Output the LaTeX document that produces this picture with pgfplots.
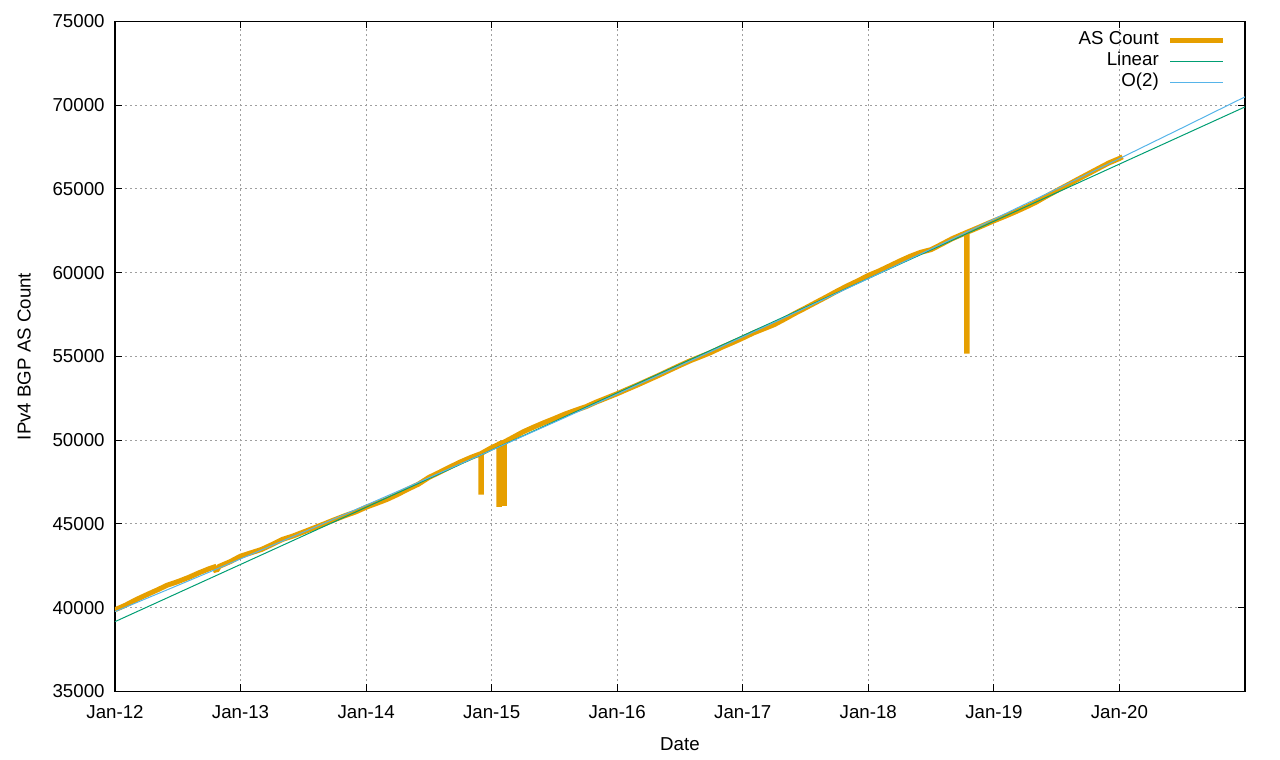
\documentclass[border=0pt]{standalone}
\usepackage{fontspec}
\setmainfont{Liberation Sans}
\usepackage{pgfplots}
\pgfplotsset{compat=1.18}
\definecolor{cOrange}{RGB}{230,159,0}
\definecolor{cGreen}{RGB}{0,158,115}
\definecolor{cBlue}{RGB}{86,180,233}
\begin{document}
\fontsize{18.7}{21}\selectfont
\begin{tikzpicture}
\path[use as bounding box] (-115pt,-68.5pt) rectangle (1165pt,691.5pt);
\begin{axis}[
  at={(0pt,0pt)}, anchor=south west,
  scale only axis, width=1130pt, height=670pt,
  xmin=2012, xmax=2021, ymin=35000, ymax=75000,
  xtick={2012,2013,2014,2015,2016,2017,2018,2019,2020},
  xticklabels={Jan-12,Jan-13,Jan-14,Jan-15,Jan-16,Jan-17,Jan-18,Jan-19,Jan-20},
  ytick={35000,40000,45000,50000,55000,60000,65000,70000,75000},
  /pgf/number format/.cd, 1000 sep={}, assume math mode=true, /pgfplots/.cd,
  scaled y ticks=false,
  tick align=inside, major tick length=7pt,
  tick style={black, line width=1pt},
  axis line style={black, line width=1.3pt},
  grid=major,
  major grid style={dash pattern=on 2pt off 3pt, gray!75, line width=1pt},
  ticklabel style={font=\fontsize{18.7}{21}\selectfont},
  yticklabel style={xshift=-4pt},
  xticklabel style={yshift=-8pt},
  label style={font=\fontsize{18.7}{21}\selectfont},
  xlabel={Date}, ylabel={IPv4 BGP AS Count},
  xlabel shift=6pt, ylabel shift=9pt,
  legend plot pos=right,
  legend cell align=right,
  legend image code/.code={\draw[#1] (0pt,0pt) -- (53pt,0pt);},
  legend style={at={(1,1)}, anchor=north east, xshift=-19pt, yshift=-9pt,
    draw=none, fill=none, inner sep=0pt, row sep=2pt, column sep=8pt,
    font=\fontsize{18.7}{21}\selectfont,
    nodes={inner sep=1pt, text height=13pt, text depth=4pt}},
]
\addplot[cOrange, line width=5pt] coordinates {
(2012.000,39880) (2012.083,40150) (2012.167,40480) (2012.250,40770) (2012.333,41050)
(2012.417,41350) (2012.500,41560) (2012.583,41800) (2012.667,42080) (2012.750,42330)
(2012.790,42430) (2012.800,42250) (2012.815,42280) (2012.830,42470) (2012.917,42750)
(2013.000,43080) (2013.083,43280) (2013.167,43480) (2013.250,43770) (2013.333,44080)
(2013.417,44280) (2013.500,44520) (2013.583,44760) (2013.667,45010) (2013.750,45260)
(2013.833,45500) (2013.917,45720) (2014.000,46000) (2014.083,46230) (2014.167,46470)
(2014.250,46760) (2014.333,47080) (2014.417,47380) (2014.500,47780) (2014.583,48080)
(2014.667,48400) (2014.750,48700) (2014.833,48970) (2014.915,49200)
(2014.915,46900) (2014.919,46900) (2014.919,49220)
(2015.000,49560) (2015.058,49760)
(2015.058,46170) (2015.062,46170) (2015.062,49790)
(2015.098,49880)
(2015.098,46230) (2015.102,46230) (2015.102,49900)
(2015.167,50160) (2015.250,50500) (2015.333,50780) (2015.417,51050) (2015.500,51300)
(2015.583,51560) (2015.667,51790) (2015.750,52000) (2015.833,52280) (2015.917,52530)
(2016.000,52780) (2016.083,53050) (2016.167,53320) (2016.250,53600) (2016.333,53880)
(2016.417,54180) (2016.500,54470) (2016.583,54750) (2016.667,55000) (2016.750,55250)
(2016.833,55550) (2016.917,55820) (2017.000,56100) (2017.083,56400) (2017.167,56650)
(2017.250,56900) (2017.333,57230) (2017.417,57580) (2017.500,57900) (2017.583,58230)
(2017.667,58560) (2017.750,58900) (2017.833,59220) (2017.917,59520) (2018.000,59840)
(2018.083,60100) (2018.167,60400) (2018.250,60700) (2018.333,60980) (2018.417,61220)
(2018.500,61380) (2018.583,61700) (2018.667,62030) (2018.750,62300) (2018.783,62400)
(2018.783,55320) (2018.787,55320) (2018.787,62420)
(2018.833,62560) (2018.917,62830) (2019.000,63100) (2019.083,63350) (2019.167,63620)
(2019.250,63900) (2019.333,64200) (2019.417,64560) (2019.500,64900) (2019.583,65230)
(2019.667,65570) (2019.750,65900) (2019.833,66230) (2019.917,66560) (2020.000,66820)
(2020.025,66920)
};
\addlegendentry{AS Count}
\addplot[cGreen, line width=1pt] coordinates {(2012,39170) (2021,69900)};
\addlegendentry{Linear}
\addplot[cBlue, line width=1pt] coordinates {
(2012.0,39770) (2012.5,41334) (2013.0,42916) (2013.5,44514) (2014.0,46128)
(2014.5,47760) (2015.0,49408) (2015.5,51074) (2016.0,52756) (2016.5,54454)
(2017.0,56170) (2017.5,57902) (2018.0,59652) (2018.5,61418) (2019.0,63200)
(2019.5,65000) (2020.0,66816) (2020.5,68650) (2021.0,70500)
};
\addlegendentry{O(2)}
\end{axis}
\end{tikzpicture}
\end{document}
